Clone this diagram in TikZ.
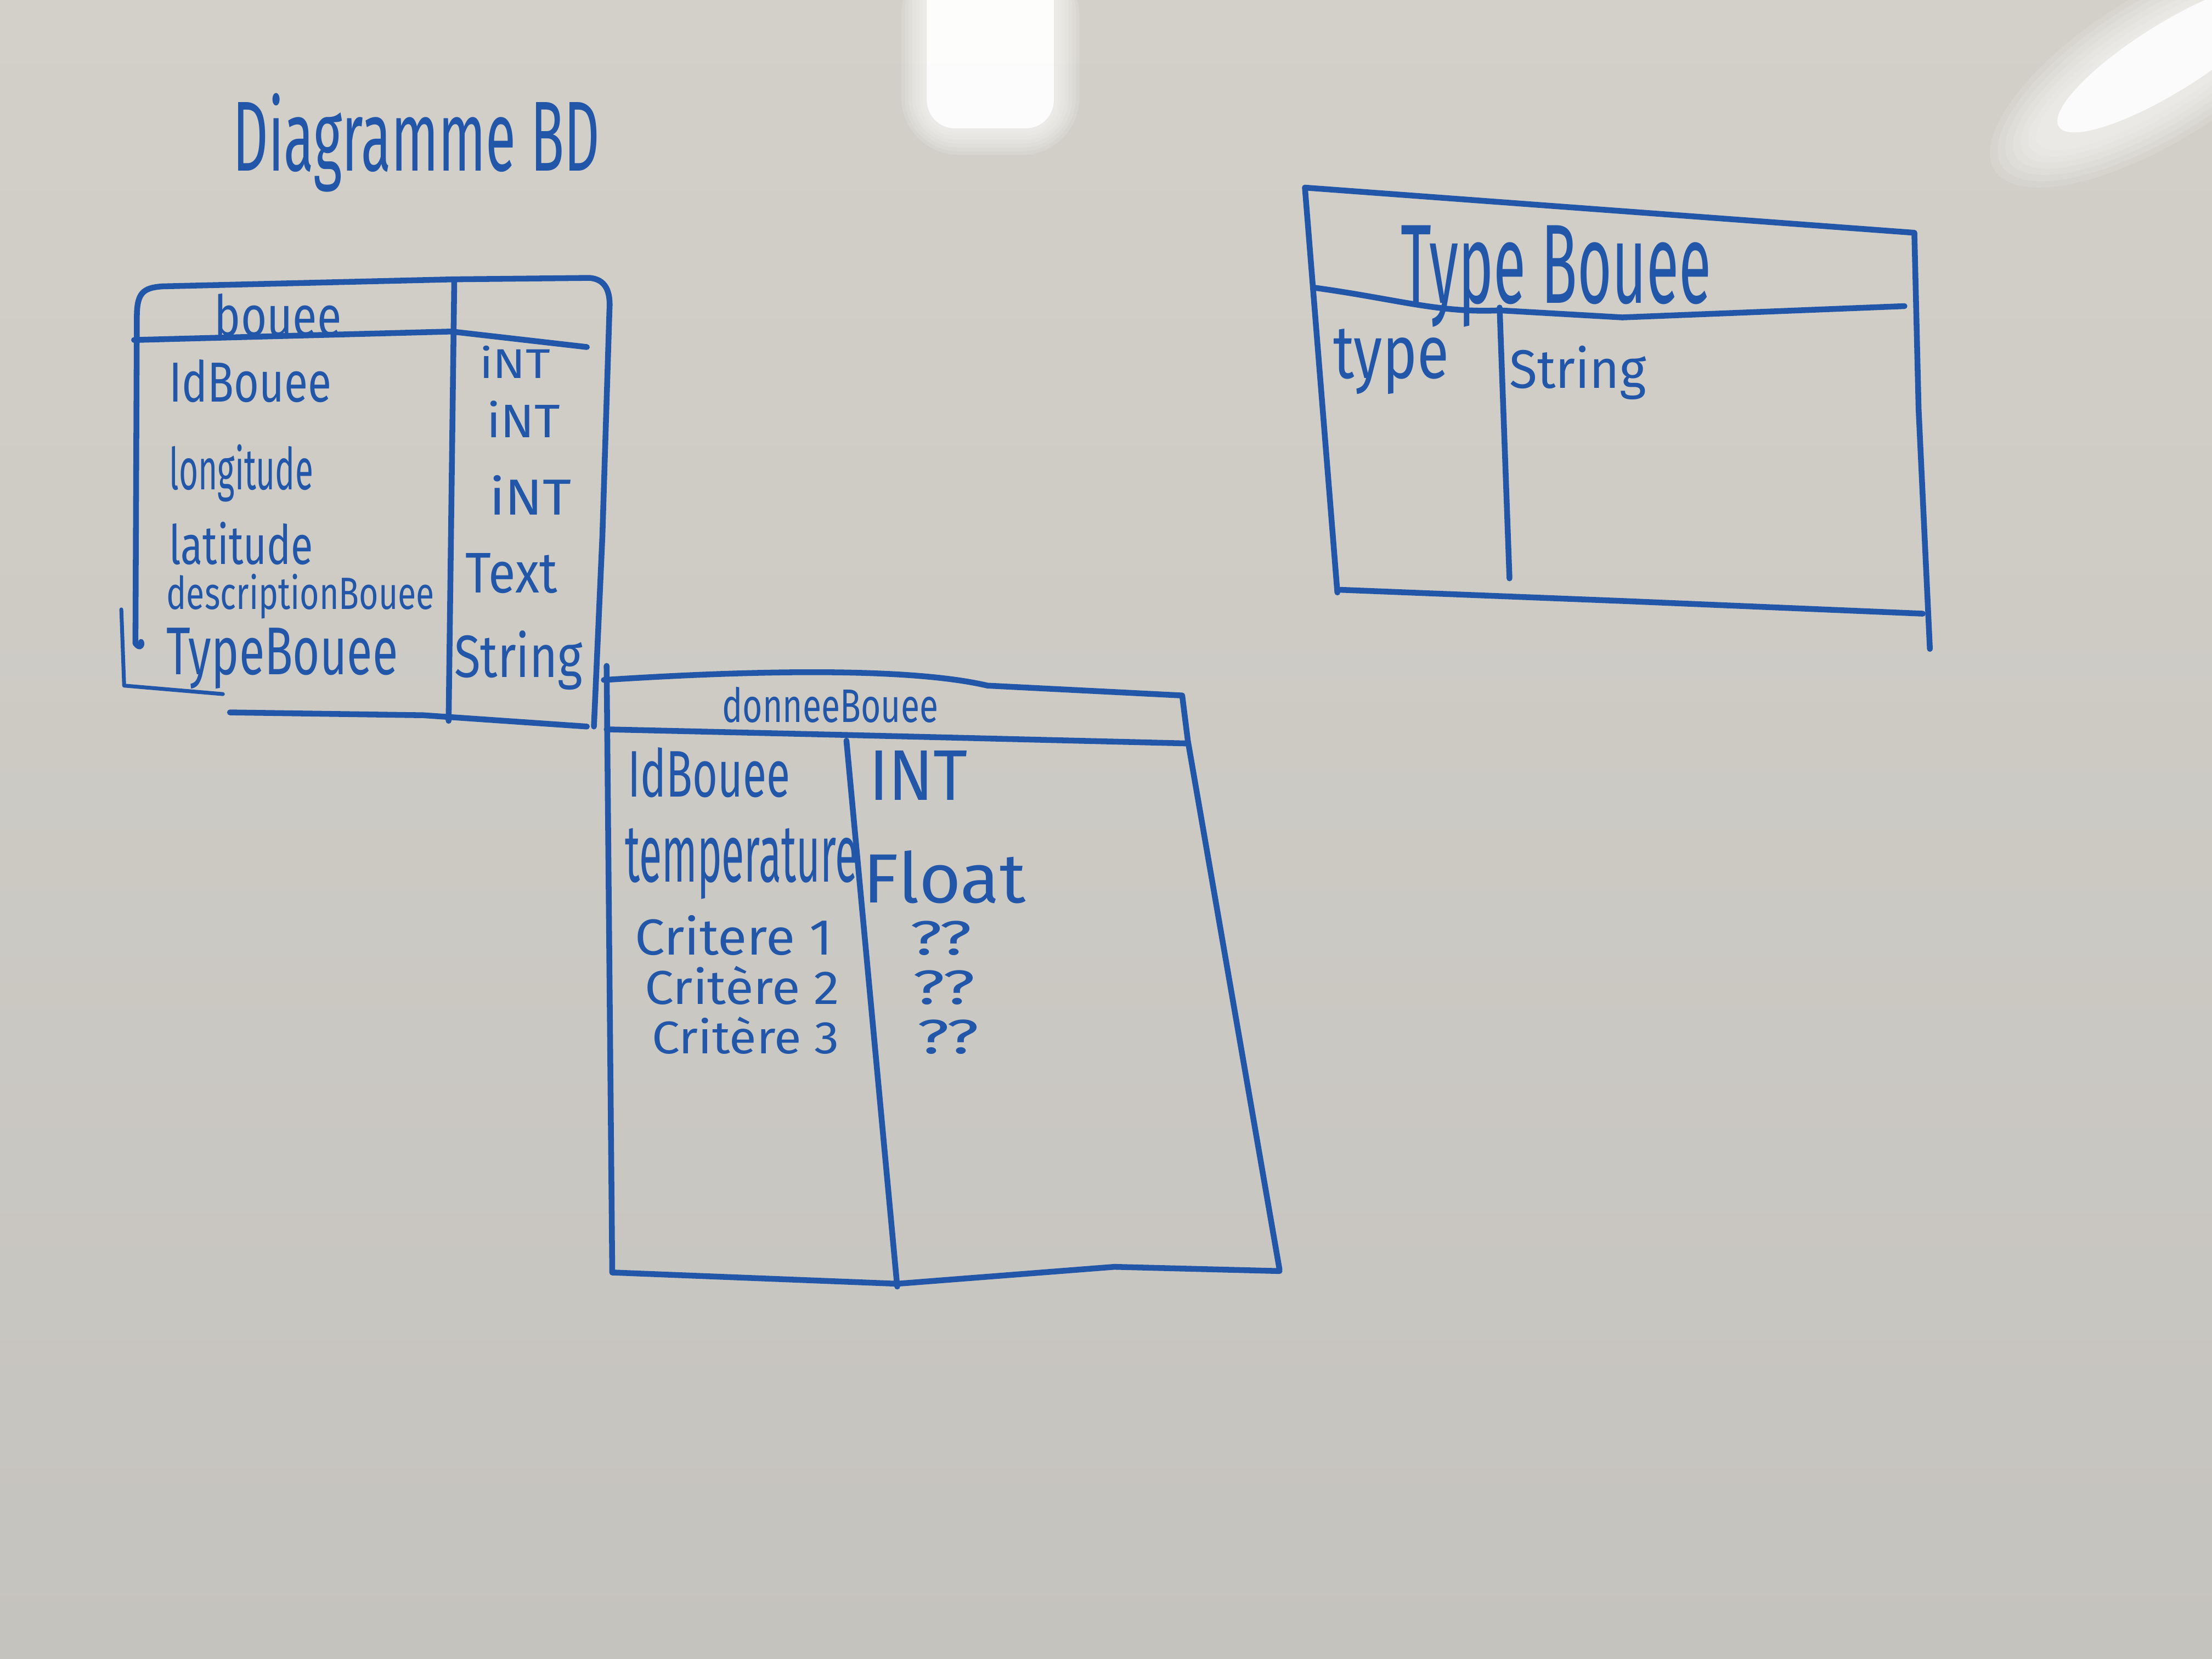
\documentclass[tikz,border=0pt]{standalone}
\usepackage{fontspec}
\setmainfont{Fira Sans}
\usepackage{graphicx}
\definecolor{marker}{RGB}{34,86,168}
\definecolor{boardtop}{RGB}{211,208,201}
\definecolor{boardbot}{RGB}{197,195,190}
% one unit of the drawing grid
\newlength\pxu \setlength\pxu{0.025714cm}
% hand-lettered word: width, height above baseline, text
\newcommand\hw[3]{\resizebox{#1\pxu}{#2\pxu}{#3}}

\begin{document}
\begin{tikzpicture}[x=0.025714cm, y=-0.025714cm,
  stroke/.style={draw=marker, line width=3pt, line cap=round, line join=round},
  txt/.style={text=marker, inner sep=0pt, outer sep=0pt, anchor=base west},
  glow/.style={fill=white, opacity=#1}]

% whiteboard surface
\path[top color=boardtop, bottom color=boardbot, use as bounding box] (0,0) rectangle (1568,1176);

% ceiling light reflections: soft halo layers around a bright core
\foreach \k in {7,6,...,1} {
  \pgfmathsetmacro\rr{14.6+2.2*\k}
  \fill[glow=0.13, rounded corners=\rr pt] (657-2.6*\k,-30) rectangle (747+2.6*\k,91+2.7*\k);
}
\fill[glow=0.9, rounded corners=14.6pt] (657,-30) rectangle (747,91);
\begin{scope}[rotate around={32:(1530,48)}]
  \foreach \k in {7,6,...,1} {
    \fill[glow=0.12] (1530,48) ellipse [x radius=95+6*\k, y radius=24+4*\k];
  }
  \fill[glow=0.85] (1540,46) ellipse [x radius=92, y radius=24];
\end{scope}

% title
\node[txt] (title) at (165,121) {\hw{260}{55}{Diagramme BD}};

% ---- table bouee ----
\draw[stroke] (96,456) .. controls (99,460) and (101,458) .. (100,455);
\draw[stroke] (96,456) -- (97,225) .. controls (97,208) and (101,204) .. (115,203) -- (322,198) -- (418,197)
  .. controls (429,198) and (433,206) .. (432,220) -- (427,380) -- (421,515);
\draw[stroke] (163,505) -- (300,507) -- (416,515);
\draw[stroke, line width=2pt] (86,432) -- (88,486) -- (158,492);
\draw[stroke] (95,241) -- (320,235) -- (416,246);
\draw[stroke] (322,199) -- (318,511);

\node[txt] (bouee) at (152,238) {\hw{90}{30}{bouee}};
\node[txt] (b_id) at (120,285) {\hw{115}{30}{IdBouee}};
\node[txt] (b_lon) at (120,347) {\hw{102}{32}{longitude}};
\node[txt] (b_lat) at (120,400) {\hw{102}{30}{latitude}};
\node[txt] (b_desc) at (118,432) {\hw{190}{25}{descriptionBouee}};
\node[txt] (b_type) at (118,478) {\hw{164}{33}{TypeBouee}};
\node[txt] (t_id) at (340,268) {\hw{50}{23}{iNT}};
\node[txt] (t_lon) at (345,310) {\hw{52}{26}{iNT}};
\node[txt] (t_lat) at (347,365) {\hw{58}{28}{iNT}};
\node[txt] (t_desc) at (330,420) {\hw{65}{28}{Text}};
\node[txt] (t_type) at (322,480) {\hw{91}{33}{String}};

% ---- table donneeBouee ----
\draw[stroke] (430,472) -- (434,902);
\draw[stroke] (428,482) .. controls (520,476) and (640,472) .. (700,486) -- (838,493) -- (842,525) -- (907,900);
\draw[stroke] (430,517) -- (600,521) -- (842,527);
\draw[stroke] (600,525) -- (636,912);
\draw[stroke] (434,902) -- (636,910) -- (790,898) -- (907,901);

\node[txt] (donnee) at (512,512) {\hw{153}{25}{donneeBouee}};
\node[txt] (d_id) at (445,565) {\hw{115}{35}{IdBouee}};
\node[txt] (d_temp) at (443,625) {\hw{165}{38}{temperature}};
\node[txt] (d_c1) at (450,677) {\hw{140}{28}{Critere 1}};
\node[txt] (d_c2) at (457,712) {\hw{138}{27}{Critère 2}};
\node[txt] (d_c3) at (462,747) {\hw{133}{26}{Critère 3}};
\node[txt] (dt_id) at (616,567) {\hw{70}{35}{INT}};
\node[txt] (dt_temp) at (612,640) {\hw{115}{37}{Float}};
\node[txt] (dt_c1) at (645,677) {\hw{44}{24}{??}};
\node[txt] (dt_c2) at (647,712) {\hw{44}{24}{??}};
\node[txt] (dt_c3) at (650,747) {\hw{44}{24}{??}};

% ---- table TypeBouee ----
\draw[stroke] (925,133) -- (948,420);
\draw[stroke] (925,133) -- (1357,165) -- (1360,290) -- (1368,460);
\draw[stroke] (932,204) .. controls (990,212) and (1020,222) .. (1063,220) -- (1150,225) -- (1350,217);
\draw[stroke] (1063,218) -- (1070,410);
\draw[stroke] (948,418) -- (1150,426) -- (1363,435);

\node[txt] (typebouee) at (993,215) {\hw{220}{55}{Type Bouee}};
\node[txt] (tb_type) at (945,268) {\hw{82}{35}{type}};
\node[txt] (tb_str) at (1070,275) {\hw{97}{30}{String}};

\end{tikzpicture}
\end{document}
